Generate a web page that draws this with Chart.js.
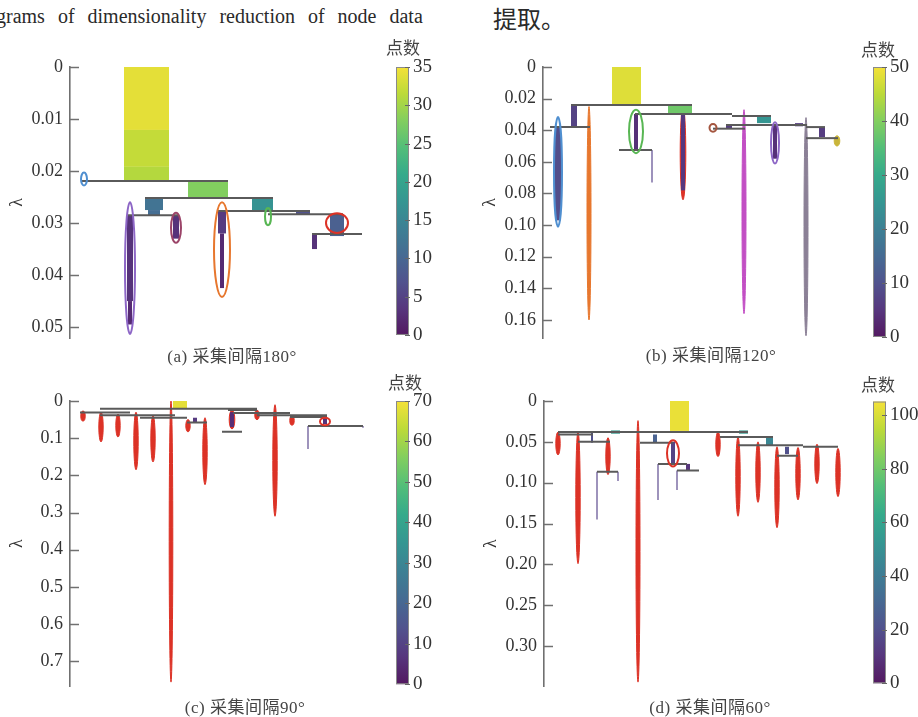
<!DOCTYPE html>
<html>
<head>
<meta charset="utf-8">
<script src="https://cdn.jsdelivr.net/npm/chart.js@4/dist/chart.umd.min.js"></script>
<style>
body { margin: 0; width: 918px; height: 717px; background: #fff; position: relative; overflow: hidden; }
canvas { position: absolute; }
.txt { position: absolute; white-space: nowrap; color: #2a2a2a; }
#t1 { left: -4px; top: 5px; font: 20px "Liberation Serif", serif; word-spacing: 8px; }
#t2 { left: 493px; top: 0px; font: 24px "Noto Sans CJK SC"; }
.cap { font: 17px "Liberation Serif", "Noto Sans CJK SC"; letter-spacing: 0.5px; color: #444; transform: translateX(-50%); }
.cnt { font: 17px "Noto Sans CJK SC"; color: #444; }
</style>
</head>
<body>
<div class="txt" id="t1">grams of dimensionality reduction of node data</div>
<div class="txt" id="t2">提取。</div>

<canvas id="cA" width="460" height="330" style="left:0;top:30px"></canvas>
<canvas id="cB" width="445" height="330" style="left:473px;top:30px"></canvas>
<canvas id="cC" width="460" height="340" style="left:0;top:364px"></canvas>
<canvas id="cD" width="444" height="340" style="left:474px;top:364px"></canvas>

<div class="txt cnt" style="left:386px;top:34px">点数</div>
<div class="txt cnt" style="left:861px;top:36px">点数</div>
<div class="txt cnt" style="left:388px;top:369px">点数</div>
<div class="txt cnt" style="left:861px;top:371px">点数</div>

<div class="txt cap" style="left:232px;top:342px">(a) 采集间隔180°</div>
<div class="txt cap" style="left:711px;top:341px">(b) 采集间隔120°</div>
<div class="txt cap" style="left:245px;top:693px">(c) 采集间隔90°</div>
<div class="txt cap" style="left:710px;top:693px">(d) 采集间隔60°</div>

<script>
// ---- (a) 采集间隔180° ----
const aYTicks = [0, 0.01, 0.02, 0.03, 0.04, 0.05];
const aYLabels = ['0', '0.01', '0.02', '0.03', '0.04', '0.05'];
const aCbTicks = [0, 5, 10, 15, 20, 25, 30, 35];
// [x0, x1, λ0, λ1, 点数]
const aBars = [
    [54, 99, 0, 0.0121, 34],
    [54, 99, 0.0121, 0.0192, 32],
    [54, 99, 0.0192, 0.0219, 31],
    [118, 158, 0.0219, 0.0252, 28],
    [75, 93, 0.0252, 0.0275, 12],
    [78, 90, 0.0275, 0.0285, 11],
    [182, 203, 0.0252, 0.0277, 17],
    [57, 63, 0.0285, 0.045, 3],
    [58, 62, 0.045, 0.0495, 2],
    [103, 109, 0.0285, 0.033, 3],
    [148, 156, 0.0277, 0.032, 4],
    [150, 154, 0.032, 0.0425, 2],
    [226, 240, 0.0277, 0.0283, 7],
    [260, 274, 0.0283, 0.0325, 9],
    [242, 247, 0.0321, 0.035, 3]
];
// [x0, x1, λ]
const aLinks = [
    [12, 158, 0.0219], [75, 203, 0.0252], [58, 109, 0.0285],
    [148, 240, 0.0277], [198, 273, 0.0283], [242, 292, 0.0321]
];
// [x, λ0, λ1]
const aStems = [];
// [x, λ0, λ1, half width, cluster colour]
const aClusters = [
    [14, 0.0203, 0.0228, 3, 'blue'],
    [60, 0.026, 0.0513, 5, 'purple'],
    [106, 0.028, 0.0338, 5, 'maroon'],
    [152, 0.026, 0.0442, 8, 'orange'],
    [198, 0.0271, 0.0304, 3, 'green'],
    [267, 0.0281, 0.0319, 11, 'red']
];

// ---- (b) 采集间隔120° ----
const bYTicks = [0, 0.02, 0.04, 0.06, 0.08, 0.10, 0.12, 0.14, 0.16];
const bYLabels = ['0', '0.02', '0.04', '0.06', '0.08', '0.10', '0.12', '0.14', '0.16'];
const bCbTicks = [0, 10, 20, 30, 40, 50];
const bBars = [
    [69, 98, 0, 0.024, 48],
    [28, 34, 0.024, 0.038, 7],
    [12, 18, 0.038, 0.097, 9],
    [125, 149, 0.024, 0.0297, 38],
    [91, 95, 0.0297, 0.052, 4],
    [138, 142, 0.0297, 0.078, 5],
    [172, 189, 0.0293, 0.0303, 18],
    [214, 228, 0.031, 0.0355, 25],
    [183, 189, 0.0365, 0.039, 6],
    [252, 260, 0.0355, 0.0375, 6],
    [276, 282, 0.038, 0.0443, 6],
    [230, 234, 0.037, 0.058, 4]
];
const bLinks = [
    [28, 149, 0.024], [7, 47, 0.038], [92, 189, 0.0297], [76, 109, 0.0525],
    [189, 228, 0.031], [183, 264, 0.0367], [170, 202, 0.039], [263, 282, 0.038], [263, 295, 0.045]
];
const bStems = [[109, 0.0525, 0.073]];
const bClusters = [
    [15, 0.0316, 0.101, 4, 'blue'],
    [46, 0.025, 0.160, 2, 'orange'],
    [93, 0.027, 0.0545, 7, 'green'],
    [140, 0.025, 0.084, 2.8, 'red'],
    [201, 0.027, 0.156, 2, 'magenta'],
    [170, 0.036, 0.041, 3.5, 'brown'],
    [232, 0.035, 0.061, 4, 'purple'],
    [263, 0.032, 0.170, 2, 'grey'],
    [294, 0.0435, 0.050, 2.8, 'olive']
];

// ---- (c) 采集间隔90° ----
const cYTicks = [0, 0.1, 0.2, 0.3, 0.4, 0.5, 0.6, 0.7];
const cYLabels = ['0', '0.1', '0.2', '0.3', '0.4', '0.5', '0.6', '0.7'];
const cCbTicks = [0, 10, 20, 30, 40, 50, 60, 70];
const cBars = [
    [103, 117, 0, 0.019, 68],
    [123, 127, 0.045, 0.058, 8],
    [160, 164, 0.03, 0.07, 5],
    [253, 257, 0.045, 0.062, 6]
];
const cLinks = [
    [30, 187, 0.021], [10, 60, 0.031], [30, 105, 0.038], [70, 117, 0.045],
    [117, 137, 0.058], [152, 172, 0.083], [158, 187, 0.024], [163, 220, 0.032],
    [187, 257, 0.038], [220, 257, 0.043], [238, 293, 0.067]
];
const cStems = [[238, 0.067, 0.129], [293, 0.067, 0.072]];
const cClusters = [
    [13, 0.027, 0.054, 2.2, 'red'],
    [31, 0.030, 0.110, 2.2, 'red'],
    [48, 0.035, 0.097, 2.2, 'red'],
    [66, 0.030, 0.185, 2.2, 'red'],
    [83, 0.040, 0.164, 2.2, 'red'],
    [101, 0.000, 0.756, 1.8, 'red'],
    [118, 0.050, 0.083, 2.2, 'red'],
    [135, 0.045, 0.225, 2.2, 'red'],
    [162, 0.025, 0.075, 2.8, 'red'],
    [187, 0.025, 0.050, 2.2, 'red'],
    [205, 0.010, 0.310, 2.2, 'red'],
    [222, 0.040, 0.065, 2.2, 'red'],
    [255, 0.045, 0.065, 5, 'red']
];

// ---- (d) 采集间隔60° ----
const dYTicks = [0, 0.05, 0.10, 0.15, 0.20, 0.25, 0.30];
const dYLabels = ['0', '0.05', '0.10', '0.15', '0.20', '0.25', '0.30'];
const dCbTicks = [0, 20, 40, 60, 80, 100];
const dBars = [
    [126, 145, 0, 0.0366, 103],
    [67, 76, 0.036, 0.040, 55],
    [195, 204, 0.036, 0.040, 55],
    [47, 49, 0.039, 0.051, 20],
    [109, 113, 0.041, 0.051, 28],
    [127, 131, 0.050, 0.076, 15],
    [222, 229, 0.044, 0.054, 45],
    [241, 245, 0.056, 0.065, 20],
    [142, 146, 0.077, 0.085, 10]
];
const dLinks = [
    [14, 204, 0.038], [14, 49, 0.041], [34, 66, 0.050], [96, 129, 0.051],
    [176, 229, 0.044], [194, 259, 0.054], [259, 294, 0.056], [233, 254, 0.067],
    [53, 74, 0.0866], [114, 143, 0.077], [133, 155, 0.085]
];
const dStems = [[53, 0.0866, 0.145], [74, 0.0866, 0.098], [114, 0.077, 0.121], [133, 0.085, 0.109]];
const dClusters = [
    [14, 0.038, 0.066, 2.2, 'red'],
    [34, 0.037, 0.199, 2.2, 'red'],
    [64, 0.045, 0.090, 2.2, 'red'],
    [94, 0.024, 0.344, 2, 'red'],
    [129, 0.048, 0.080, 6, 'red'],
    [174, 0.038, 0.068, 2.2, 'red'],
    [194, 0.044, 0.141, 2.2, 'red'],
    [214, 0.050, 0.124, 2.2, 'red'],
    [233, 0.056, 0.155, 2.2, 'red'],
    [254, 0.057, 0.121, 2.2, 'red'],
    [273, 0.053, 0.101, 2.2, 'red'],
    [294, 0.058, 0.117, 2.2, 'red']
];

const palette = {
    blue: '#4f8fd0', purple: '#8d66c6', maroon: '#9b4468', orange: '#e7772e',
    green: '#58b653', red: '#dc3226', magenta: '#c24fc4', grey: '#8b8096',
    brown: '#a4553f', olive: '#c9b53a'
};

const VIR = [[68,1,84],[72,36,117],[65,68,135],[53,95,141],[42,120,142],[33,145,140],
             [34,168,132],[68,191,112],[122,209,81],[189,223,38],[253,231,37]];
function viridis(t) {
    t = Math.max(0, Math.min(1, t));
    const p = t * 10, i = Math.min(9, Math.floor(p)), f = p - i;
    const c = VIR[i].map((v, k) => v + (VIR[i + 1][k] - v) * f);
    return 'rgb(' + c.map(v => Math.round(v * 0.87 + 185 * 0.13)).join(',') + ')';
}

function treePlugin(d) {
    function ellipse(ctx, x, y, c) {
        const cx = x.getPixelForValue(c[0]);
        const rx = x.getPixelForValue(c[0] + c[3]) - cx;
        const y0 = y.getPixelForValue(c[1]), y1 = y.getPixelForValue(c[2]);
        ctx.beginPath();
        ctx.ellipse(cx, (y0 + y1) / 2, rx, Math.abs(y1 - y0) / 2, 0, 0, Math.PI * 2);
    }
    return {
        id: 'tree',
        beforeDatasetsDraw(chart) {
            const { ctx, scales: { x, y } } = chart;
            ctx.save();
            // thin clusters look filled
            d.clusters.filter(c => c[3] < 3).forEach(c => {
                ellipse(ctx, x, y, c);
                ctx.fillStyle = palette[c[4]];
                ctx.strokeStyle = palette[c[4]];
                ctx.lineWidth = 1;
                ctx.fill();
                ctx.stroke();
            });
            d.bars.forEach(([x0, x1, l0, l1, n]) => {
                const px0 = x.getPixelForValue(x0), px1 = x.getPixelForValue(x1);
                const py0 = y.getPixelForValue(l0), py1 = y.getPixelForValue(l1);
                ctx.fillStyle = viridis(n / d.cbMax);
                ctx.fillRect(px0, py0, px1 - px0, py1 - py0);
            });
            ctx.restore();
        },
        afterDatasetsDraw(chart) {
            const { ctx, scales: { x, y } } = chart;
            ctx.save();
            d.clusters.filter(c => c[3] >= 3).forEach(c => {
                ellipse(ctx, x, y, c);
                ctx.strokeStyle = palette[c[4]];
                ctx.lineWidth = 2;
                ctx.stroke();
            });
            ctx.restore();
        },
        afterDraw(chart) {
            const { ctx, chartArea: ca, scales: { y, cb } } = chart;
            ctx.save();
            // inner tick marks on the λ axis
            ctx.strokeStyle = '#707070';
            ctx.lineWidth = 1.5;
            d.yTicks.forEach(v => {
                const py = Math.round(y.getPixelForValue(v)) + 0.5;
                ctx.beginPath();
                ctx.moveTo(ca.left, py);
                ctx.lineTo(ca.left + 9, py);
                ctx.stroke();
            });
            // colour bar
            const top = cb.getPixelForValue(d.cbMax), bot = cb.getPixelForValue(0);
            const x1 = ca.right, x0 = ca.right - 13;
            const g = ctx.createLinearGradient(0, bot, 0, top);
            for (let i = 0; i <= 20; i++) g.addColorStop(i / 20, viridis(i / 20));
            ctx.fillStyle = g;
            ctx.fillRect(x0, top, x1 - x0, bot - top);
            ctx.strokeStyle = '#8a8a8a';
            ctx.lineWidth = 1;
            ctx.strokeRect(x0 + 0.5, top + 0.5, x1 - x0 - 1, bot - top - 1);
            ctx.strokeStyle = '#666';
            d.cbTicks.forEach(v => {
                const py = Math.round(cb.getPixelForValue(v)) + 0.5;
                ctx.beginPath();
                ctx.moveTo(x1 - 4, py);
                ctx.lineTo(x1 + 1, py);
                ctx.stroke();
            });
            ctx.restore();
        }
    };
}

function makeTree(id, d) {
    const datasets = [];
    d.links.forEach(([x0, x1, l]) => datasets.push({
        data: [{ x: x0, y: l }, { x: x1, y: l }],
        borderColor: '#5a5a5a', borderWidth: 2
    }));
    d.stems.forEach(([xv, l0, l1]) => datasets.push({
        data: [{ x: xv, y: l0 }, { x: xv, y: l1 }],
        borderColor: '#7e6fa6', borderWidth: 1.5
    }));
    datasets.forEach(ds => { ds.showLine = true; ds.pointRadius = 0; });

    const tickFont = { family: '"Liberation Serif", serif', size: 18 };
    new Chart(document.getElementById(id), {
        type: 'scatter',
        data: { datasets },
        options: {
            responsive: false,
            animation: false,
            events: [],
            layout: { padding: d.pad },
            plugins: { legend: { display: false }, tooltip: { enabled: false } },
            scales: {
                x: { type: 'linear', display: false, min: 0, max: d.xMax },
                y: {
                    type: 'linear', position: 'left', reverse: true, min: 0, max: d.lamMax,
                    afterFit: s => { s.width = 70; },
                    afterBuildTicks: s => { s.ticks = d.yTicks.map(v => ({ value: v })); },
                    grid: { display: false, drawTicks: false, tickLength: 0 },
                    border: { color: '#707070', width: 1.6 },
                    ticks: { font: tickFont, color: '#333', padding: 7, callback: (v, i) => d.yLabels[i] },
                    title: { display: true, text: 'λ', color: '#333',
                             font: { family: '"Liberation Serif", serif', size: 18 }, padding: { top: 6, bottom: 0 } }
                },
                cb: {
                    type: 'linear', position: 'right', min: d.cbMin, max: d.cbTop,
                    afterFit: s => { s.width = d.cbW; },
                    afterBuildTicks: s => { s.ticks = d.cbTicks.map(v => ({ value: v })); },
                    grid: { display: false, drawTicks: false, tickLength: 0 },
                    border: { display: false },
                    ticks: { font: { family: '"Liberation Serif", serif', size: 19 }, color: '#333', padding: 4,
                             callback: v => String(v) }
                }
            }
        },
        plugins: [treePlugin(d)]
    });
}

makeTree('cA', { bars: aBars, links: aLinks, stems: aStems, clusters: aClusters,
    yTicks: aYTicks, yLabels: aYLabels, cbTicks: aCbTicks,
    lamMax: 0.0521, cbMin: -0.4, cbTop: 35, cbMax: 35, xMax: 339, cbW: 51,
    pad: { left: 0, right: 0, top: 37, bottom: 22 } });
makeTree('cB', { bars: bBars, links: bLinks, stems: bStems, clusters: bClusters,
    yTicks: bYTicks, yLabels: bYLabels, cbTicks: bCbTicks,
    lamMax: 0.1714, cbMin: -0.19, cbTop: 50, cbMax: 50, xMax: 343, cbW: 32,
    pad: { left: 0, right: 0, top: 37, bottom: 22 } });
makeTree('cC', { bars: cBars, links: cLinks, stems: cStems, clusters: cClusters,
    yTicks: cYTicks, yLabels: cYLabels, cbTicks: cCbTicks,
    lamMax: 0.767, cbMin: -0.5, cbTop: 70, cbMax: 70, xMax: 339, cbW: 51,
    pad: { left: 0, right: 0, top: 37, bottom: 17 } });
makeTree('cD', { bars: dBars, links: dLinks, stems: dStems, clusters: dClusters,
    yTicks: dYTicks, yLabels: dYLabels, cbTicks: dCbTicks,
    lamMax: 0.349, cbMin: -1.1, cbTop: 105.2, cbMax: 105, xMax: 342, cbW: 32,
    pad: { left: 0, right: 0, top: 37, bottom: 17 } });
</script>
</body>
</html>
